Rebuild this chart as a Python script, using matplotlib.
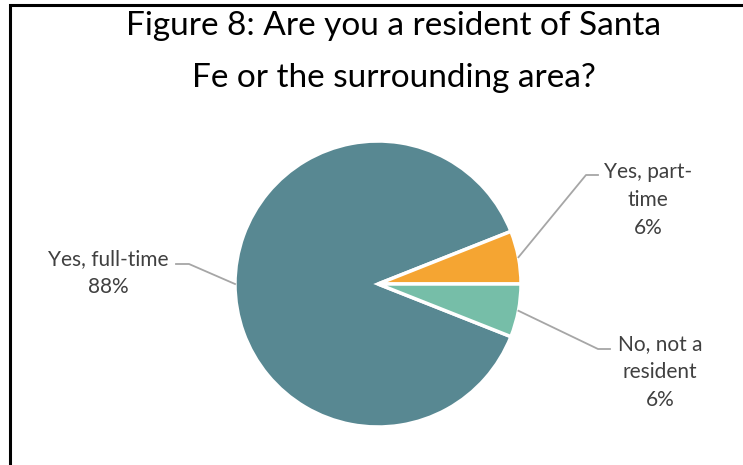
import matplotlib.pyplot as plt
import numpy as np
from matplotlib.patches import Rectangle

plt.rcParams['font.family'] = ['Lato', 'DejaVu Sans']

title = "Figure 8: Are you a resident of Santa\nFe or the surrounding area?"
labels = ["Yes, full-time", "Yes, part-\ntime", "No, not a\nresident"]
shares = [88, 6, 6]
colors = ["#588892", "#F5A532", "#76BEA8"]

W, H = 743, 465
fig = plt.figure(figsize=(W / 100, H / 100), dpi=100)
ax = fig.add_axes([0, 0, 1, 1])

# chart frame (only the left and top edges fall inside the image)
ax.add_patch(Rectangle((10, -20), W + 40, H - 5 + 20, fill=False,
                       edgecolor='black', linewidth=2.2))

cx, cy, r = 378, H - 284, 143
start = 360 - 360 * shares[2] / sum(shares)
wedges, _ = ax.pie(shares, colors=colors, startangle=start, counterclock=False,
                   center=(cx, cy), radius=r, frame=True,
                   wedgeprops=dict(edgecolor='white', linewidth=2.5))
ax.set_xlim(0, W)
ax.set_ylim(0, H)
ax.set_aspect('equal')
ax.axis('off')

ax.text(394, H - 52, title, ha='center', va='center', fontsize=24,
        color='black', linespacing=1.9)

text_color = '#404040'
line_color = '#A6A6A6'
# label text centre, elbow x, elbow y for each slice
layout = [((108, H - 273), 189, H - 264),
          ((648, H - 200), 586, H - 175),
          ((660, H - 372), 598, H - 349)]
for w, lab, val, (tpos, ex, ey) in zip(wedges, labels, shares, layout):
    mid = np.deg2rad((w.theta1 + w.theta2) / 2)
    ax_, ay_ = cx + r * np.cos(mid), cy + r * np.sin(mid)
    tx = ex - 13 if ex < cx else ex + 12
    ax.plot([ax_, ex, tx], [ay_, ey, ey], color=line_color, linewidth=1.3)
    ax.text(tpos[0], tpos[1], f"{lab}\n{val}%", ha='center', va='center',
            fontsize=15, color=text_color, linespacing=1.5)

fig.savefig("out.png", dpi=100)
